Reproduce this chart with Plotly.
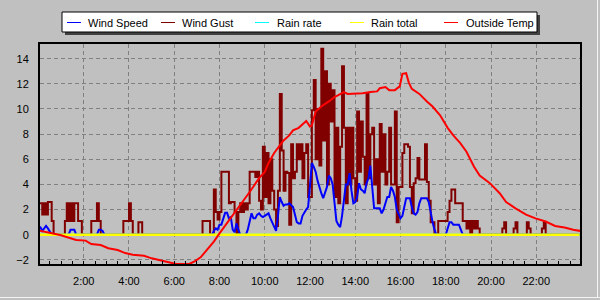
import plotly.graph_objects as go
import pandas as pd

# ---------------- data ----------------
DAY = "2024-01-01"

# wind gust, 5-minute samples, one row per hour (00:00 .. 23:55)
wind_gust = [
    2.5, 2.5, 1.6, 2.5, 1.6, 2.6, 2.6, 1.1, 0, 0, 0, 0,
    0, 0, 1.1, 2.5, 1.1, 2.5, 1.1, 2.5, 2.5, 1.1, 1.1, 0,
    0, 0, 0, 0, 1.1, 1.1, 1.1, 2.5, 1.1, 0, 0, 0,
    0, 0, 0, 0, 0, 0, 0, 0, 0, 1.1, 1.1, 1.1,
    2.5, 1.1, 0, 0, 0, 1.0, 1.0, 0, 0, 0, 0, 0,
    0, 0, 0, 0, 0, 0, 0, 0, 0, 0, 0, 0,
    0, 0, 0, 0, 0, 0, 0, 0, 0, 0, 0, 0,
    0, 0, 0, 1.1, 1.1, 1.1, 1.1, 0, 0, 3.6, 1.8, 1.2,
    1.8, 5.0, 5.0, 5.0, 5.0, 2.5, 2.6, 2.6, 1.8, 0, 1.8, 2.5,
    1.8, 2.5, 2.0, 2.5, 5.0, 5.0, 5.0, 4.6, 5.0, 2.7, 2.0, 7.0,
    3.0, 6.5, 2.5, 6.0, 3.5, 2.0, 0.7, 3.5, 11.2, 6.7, 3.5, 5.0,
    4.9, 0.8, 7.2, 4.5, 5.0, 7.2, 6.0, 7.2, 4.5, 6.5, 7.2, 3.0,
    3.0, 9.9, 12.3, 6.0, 10.0, 5.5, 14.8, 7.5, 13.0, 4.0, 12.0, 9.0,
    11.5, 3.0, 8.5, 2.5, 7.0, 13.4, 8.5, 2.5, 8.5, 4.0, 8.5, 4.5,
    2.7, 9.8, 5.0, 9.0, 6.2, 4.0, 11.2, 4.5, 8.0, 8.5, 4.0, 6.0,
    2.5, 8.8, 5.0, 8.0, 4.0, 5.0, 8.5, 4.0, 4.0, 9.8, 1.0, 3.8,
    3.8, 6.5, 7.2, 7.2, 7.0, 3.8, 1.7, 4.1, 4.5, 6.1, 4.4, 4.4,
    4.4, 7.2, 4.2, 2.7, 1.0, 1.0, 0, 0, 1.1, 1.1, 1.1, 1.1,
    1.1, 1.8, 2.7, 3.6, 3.6, 2.5, 2.5, 2.5, 2.5, 1.1, 1.1, 0.5,
    1.1, 0, 1.1, 0.5, 1.1, 0.5, 0, 0, 0, 0, 0, 0,
    0, 0, 0, 0, 0, 0, 0.5, 1.0, 0, 0, 0, 0,
    0.5, 1.0, 0, 0, 0, 0, 0, 1.0, 0.5, 0, 0, 0,
    0, 0, 0, 0.5, 1.0, 0, 0, 0, 0, 0, 0, 0,
    0, 0, 0, 0, 0, 0, 0, 0, 0, 0, 0, 0,
]

# wind speed, 5-minute samples, one row per hour
wind_speed = [
    0.6, 0.6, 0.3, 0.5, 0.7, 0.5, 0.2, 0, 0, 0, 0, 0,
    0, 0, 0, 0, 0, 0.4, 0.4, 0.4, 0, 0, 0, 0,
    0, 0, 0, 0, 0, 0, 0, 0, 0.4, 0.4, 0.3, 0,
    0, 0, 0, 0, 0, 0, 0, 0, 0, 0, 0, 0,
    0, 0, 0, 0, 0, 0, 0, 0, 0, 0, 0, 0,
    0, 0, 0, 0, 0, 0, 0, 0, 0, 0, 0, 0,
    0, 0, 0, 0, 0, 0, 0, 0, 0, 0, 0, 0,
    0, 0, 0, 0, 0, 0, 0, 0, 0, 0.3, 0.5, 0.4,
    0.8, 0.8, 1.2, 1.75, 1.75, 1.3, 1.4, 0.4, 0.2, 0.9, 0.4, 0,
    0, 0, 0, 0.4, 1.2, 1.7, 1.3, 1.3, 1.6, 1.7, 1.5, 1.4,
    1.5, 1.6, 1.7, 1.3, 1.0, 0.6, 0.3, 1.5, 3.0, 2.6, 2.3, 2.4,
    2.4, 2.5, 2.3, 2.2, 1.6, 1.0, 0.9, 0.9, 1.5, 1.8, 2.0, 2.2,
    4.1, 5.7, 5.4, 5.0, 4.3, 3.7, 3.3, 2.9, 3.3, 3.8, 4.7, 4.5,
    4.0, 2.2, 1.1, 0.8, 0.6, 1.5, 2.7, 4.0, 4.0, 4.9, 3.5, 2.5,
    2.6, 3.0, 4.1, 3.6, 3.5, 3.3, 4.1, 4.5, 5.5, 4.0, 2.1, 2.1,
    2.1, 2.1, 1.7, 2.0, 2.5, 3.0, 3.0, 3.8, 3.5, 3.0, 2.0, 1.6,
    1.3, 1.5, 2.3, 2.9, 2.9, 2.9, 2.2, 1.7, 1.6, 1.8, 2.5, 2.9,
    2.9, 2.9, 2.9, 2.6, 1.7, 1.0, 0.4, 0, 0, 0, 0, 0,
    0, 0.5, 1.0, 1.0, 0.8, 0.8, 0.8, 0.8, 0.4, 0, 0, 0,
    0, 0, 0, 0, 0, 0, 0, 0, 0, 0, 0, 0,
    0, 0, 0, 0, 0, 0, 0, 0, 0, 0, 0, 0,
    0, 0, 0, 0, 0, 0, 0, 0, 0, 0, 0, 0,
    0, 0, 0, 0, 0, 0, 0, 0, 0, 0, 0, 0,
    0, 0, 0, 0, 0, 0, 0, 0, 0, 0, 0, 0,
]

rain_rate = [0.0] * 288
rain_total = [0.0] * 288

temp_times = [
    "00:03", "00:20", "00:40", "01:00", "01:10", "01:25", "01:40", "02:05",
    "02:20", "02:45", "03:05", "03:30", "03:50", "04:10", "04:40", "05:00",
    "05:30", "05:50", "06:05", "06:40", "06:55", "07:10", "07:30", "07:45",
    "08:00", "08:25", "08:50", "09:20", "09:45", "10:00", "10:10", "10:25",
    "10:40", "10:50", "11:05", "11:15", "11:30", "11:40", "11:50", "12:00",
    "12:05", "12:15", "12:30", "12:50", "13:05", "13:15", "13:30", "13:40",
    "14:00", "14:20", "14:40", "14:58", "15:05", "15:20", "15:30", "15:45",
    "15:58", "16:05", "16:15", "16:22", "16:30", "16:50", "17:10", "17:25",
    "17:45", "18:05", "18:20", "18:38", "18:55", "19:15", "19:30", "19:57",
    "20:23", "20:40", "21:05", "21:33", "21:58", "22:25", "22:50", "23:15",
    "23:38", "23:57",
]
temp_values = [
    0.32, 0.22, 0.05, -0.05, -0.14, -0.27, -0.42, -0.47,
    -0.74, -0.82, -1.08, -1.22, -1.46, -1.59, -1.68, -1.88,
    -2.07, -2.2, -2.33, -2.33, -2.1, -1.8, -1.1, -0.55,
    0.1, 1.1, 2.2, 3.4, 4.5, 5.0, 5.7, 6.5,
    7.1, 7.5, 7.9, 8.3, 8.5, 8.8, 9.05, 8.6,
    8.7, 9.8, 10.2, 10.6, 10.95, 11.1, 11.35, 11.2,
    11.2, 11.25, 11.35, 11.4, 11.65, 11.75, 11.5, 11.5,
    11.8, 12.8, 12.85, 12.1, 11.6, 11.2, 10.6, 10.2,
    9.5, 8.5, 7.9, 7.3, 6.6, 5.4, 4.7, 4.1,
    3.3, 2.6, 2.1, 1.6, 1.3, 1.05, 0.7, 0.58,
    0.4, 0.3,
]

y_ticks = [-2, 0, 2, 4, 6, 8, 10, 12, 14]
legend_names = ["Wind Speed", "Wind Gust", "Rain rate", "Rain total", "Outside Temp"]
legend_colors = ["#0000FF", "#800000", "#00FFFF", "#FFFF00", "#FF0000"]

# ---------------- figure ----------------
t5 = pd.date_range(f"{DAY} 00:00", periods=288, freq="5min")
t_temp = pd.to_datetime([f"{DAY} {t}" for t in temp_times])

fig = go.Figure()
fig.add_trace(go.Scatter(x=t5, y=wind_gust, mode="lines", line=dict(color="#800000", width=2, shape="hv"),
                         name="Wind Gust", showlegend=False))
fig.add_trace(go.Scatter(x=t5, y=wind_speed, mode="lines", line=dict(color="#0000FF", width=2),
                         name="Wind Speed", showlegend=False))
fig.add_trace(go.Scatter(x=t5, y=rain_rate, mode="lines", line=dict(color="#00FFFF", width=2),
                         name="Rain rate", showlegend=False))
fig.add_trace(go.Scatter(x=t5, y=rain_total, mode="lines", line=dict(color="#FFFF00", width=2.5),
                         name="Rain total", showlegend=False))
fig.add_trace(go.Scatter(x=t_temp, y=temp_values, mode="lines", line=dict(color="#FF0000", width=2),
                         name="Outside Temp", showlegend=False))

# plot area in pixels: x 40..580, y 44..264
L, R, T, B = 40, 580, 44, 264
def px(x):
    return (x - L) / (R - L)
def py(y):
    return (B - y) / (B - T)

FONT = "Liberation Sans, Arial, sans-serif"
shapes = []
annotations = []
# legend shadow + box
shapes.append(dict(type="rect", xref="paper", yref="paper", x0=px(65), x1=px(540), y0=py(35), y1=py(15),
                   fillcolor="#404040", line=dict(width=0), layer="above"))
shapes.append(dict(type="rect", xref="paper", yref="paper", x0=px(62), x1=px(537), y0=py(32), y1=py(12),
                   fillcolor="white", line=dict(color="black", width=1), layer="above"))
line_x = [67, 161, 255, 350, 444]
text_x = [87, 181, 276, 370, 465]
for lx, tx, name, col in zip(line_x, text_x, legend_names, legend_colors):
    shapes.append(dict(type="line", xref="paper", yref="paper", x0=px(lx), x1=px(lx + 14),
                       y0=py(22.5), y1=py(22.5), line=dict(color=col, width=1), layer="above"))
    annotations.append(dict(xref="paper", yref="paper", x=px(tx - 1), y=py(22.5), text=name,
                            showarrow=False, xanchor="left", yanchor="middle",
                            font=dict(family=FONT, size=11, color="black")))

# window frame highlight
shapes.append(dict(type="line", xref="paper", yref="paper", x0=px(0), x1=px(600), y0=py(297.5), y1=py(297.5),
                   line=dict(color="#F4F4F4", width=1)))
shapes.append(dict(type="line", xref="paper", yref="paper", x0=px(597.5), x1=px(597.5), y0=py(0), y1=py(298),
                   line=dict(color="#F4F4F4", width=1)))

font = dict(family=FONT, size=11, color="black")

fig.update_layout(
    width=600, height=300,
    margin=dict(l=L, r=600 - R, t=T, b=300 - B, pad=0),
    paper_bgcolor="#C0C0C0", plot_bgcolor="#C0C0C0",
    font=font, showlegend=False,
    shapes=shapes, annotations=annotations,
)
fig.update_xaxes(
    type="date",
    range=[f"{DAY} 00:04", f"{DAY} 23:56"],
    tick0=f"{DAY} 00:00", dtick=2 * 3600 * 1000,
    tickformat="%-H:%M",
    showgrid=True, gridcolor="#808080", griddash="4px,3px", gridwidth=1,
    showline=True, linecolor="black", linewidth=2, mirror=True,
    ticks="inside", ticklen=3, tickcolor="black",
    minor=dict(dtick=30 * 60 * 1000, ticks="inside", ticklen=3, tickcolor="black", showgrid=False),
    ticklabelstandoff=6,
    zeroline=False,
)
fig.update_yaxes(
    range=[-2.33, 15.17],
    tickvals=y_ticks,
    showgrid=True, gridcolor="#808080", griddash="4px,3px", gridwidth=1,
    showline=True, linecolor="black", linewidth=2, mirror=True,
    ticks="", ticklabelstandoff=7,
    zeroline=False,
)

fig.write_html("out.html")
